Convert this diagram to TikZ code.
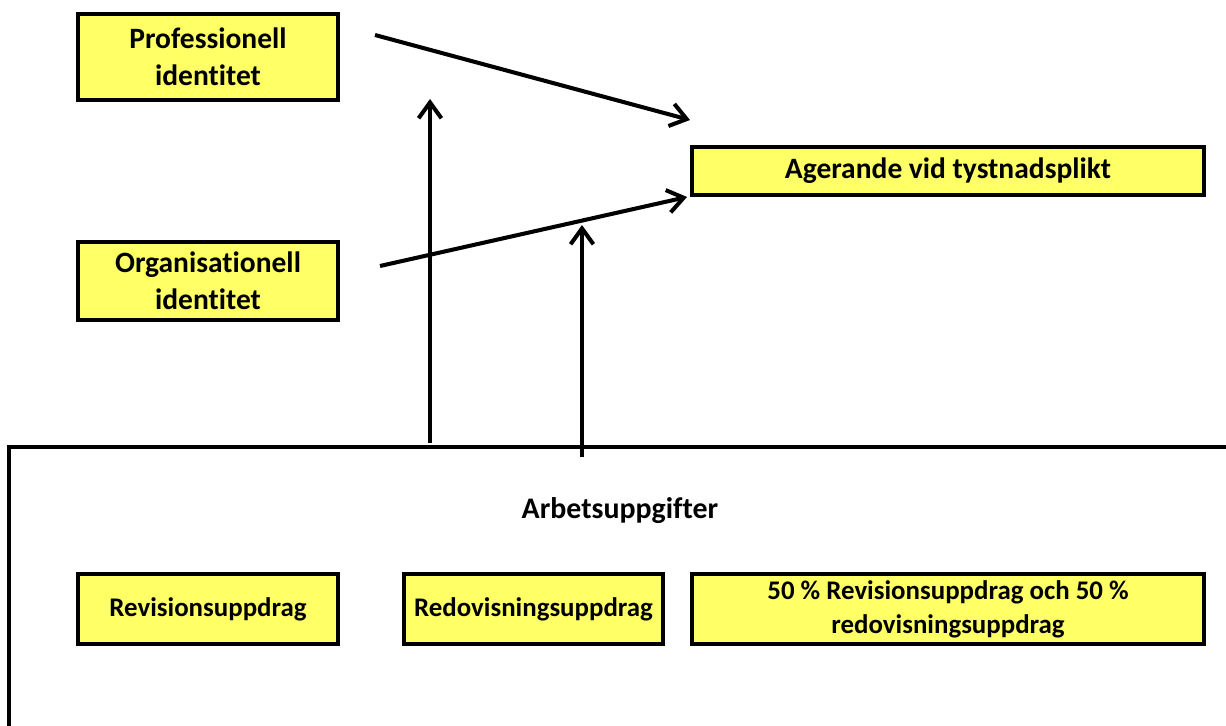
\documentclass[tikz,border=0pt]{standalone}
\usepackage{fontspec}
\setmainfont{Carlito}[Ligatures=NoCommon]
\usetikzlibrary{arrows.meta}
\definecolor{boxgul}{RGB}{255,255,102}
\tikzset{
  ruta/.style={draw, line width=2.2pt, fill=boxgul, inner sep=0pt, align=center, font=\fontsize{16.8}{20.8}\selectfont\bfseries},
  liten/.style={ruta, font=\fontsize{15.3}{19.5}\selectfont\bfseries},
  pil/.style={line width=2.3pt, -{Straight Barb[length=9pt,width=13pt]}},
  ram/.style={line width=2.3pt}
}

\begin{document}
\begin{tikzpicture}[x=0.02cm, y=-0.02cm]
			%%%%% START %%%%%
			\useasboundingbox (0, 0) rectangle (1226, 726);
			
			\node[ruta, minimum width=5.2cm, minimum height=1.72cm] (prof) at (208, 57) {Professionell\\identitet};
			\node[ruta, minimum width=5.2cm, minimum height=1.56cm] (org) at (208, 281) {Organisationell\\identitet};
			\node[ruta, minimum width=10.24cm, minimum height=0.96cm] (ager) at (948, 171) {Agerande vid tystnadsplikt};
			
			% ramen for arbetsuppgifter
			\draw[ram] (1230, 447) -- (9, 447) -- (9, 730);
			\node[font=\fontsize{17}{21}\selectfont\bfseries] (arb) at (620, 511) {Arbetsuppgifter};
			
			\node[liten, minimum width=5.2cm, minimum height=1.4cm] (rev) at (208, 609) {Revisionsuppdrag};
			\node[liten, minimum width=5.18cm, minimum height=1.4cm] (redov) at (533.5, 609) {Redovisningsuppdrag};
			\node[liten, minimum width=10.24cm, minimum height=1.4cm] (halv) at (948, 609) {50 \% Revisionsuppdrag och 50 \%\\redovisningsuppdrag};
			
			\coordinate (profut) at (375, 35);
			\coordinate (agerin1) at (690, 120);
			\coordinate (orgut) at (380, 266);
			\coordinate (agerin2) at (687, 197);
			\coordinate (ramA) at (430, 443);
			\coordinate (profin) at (430, 99);
			\coordinate (ramB) at (582, 457);
			\coordinate (pilin) at (582, 225);
			
			\draw[pil] (profut) -- (agerin1);
			\draw[pil] (orgut) -- (agerin2);
			\draw[pil] (ramA) -- (profin);
			\draw[pil] (ramB) -- (pilin);
			%%%%% END %%%%%
\end{tikzpicture}
\end{document}
